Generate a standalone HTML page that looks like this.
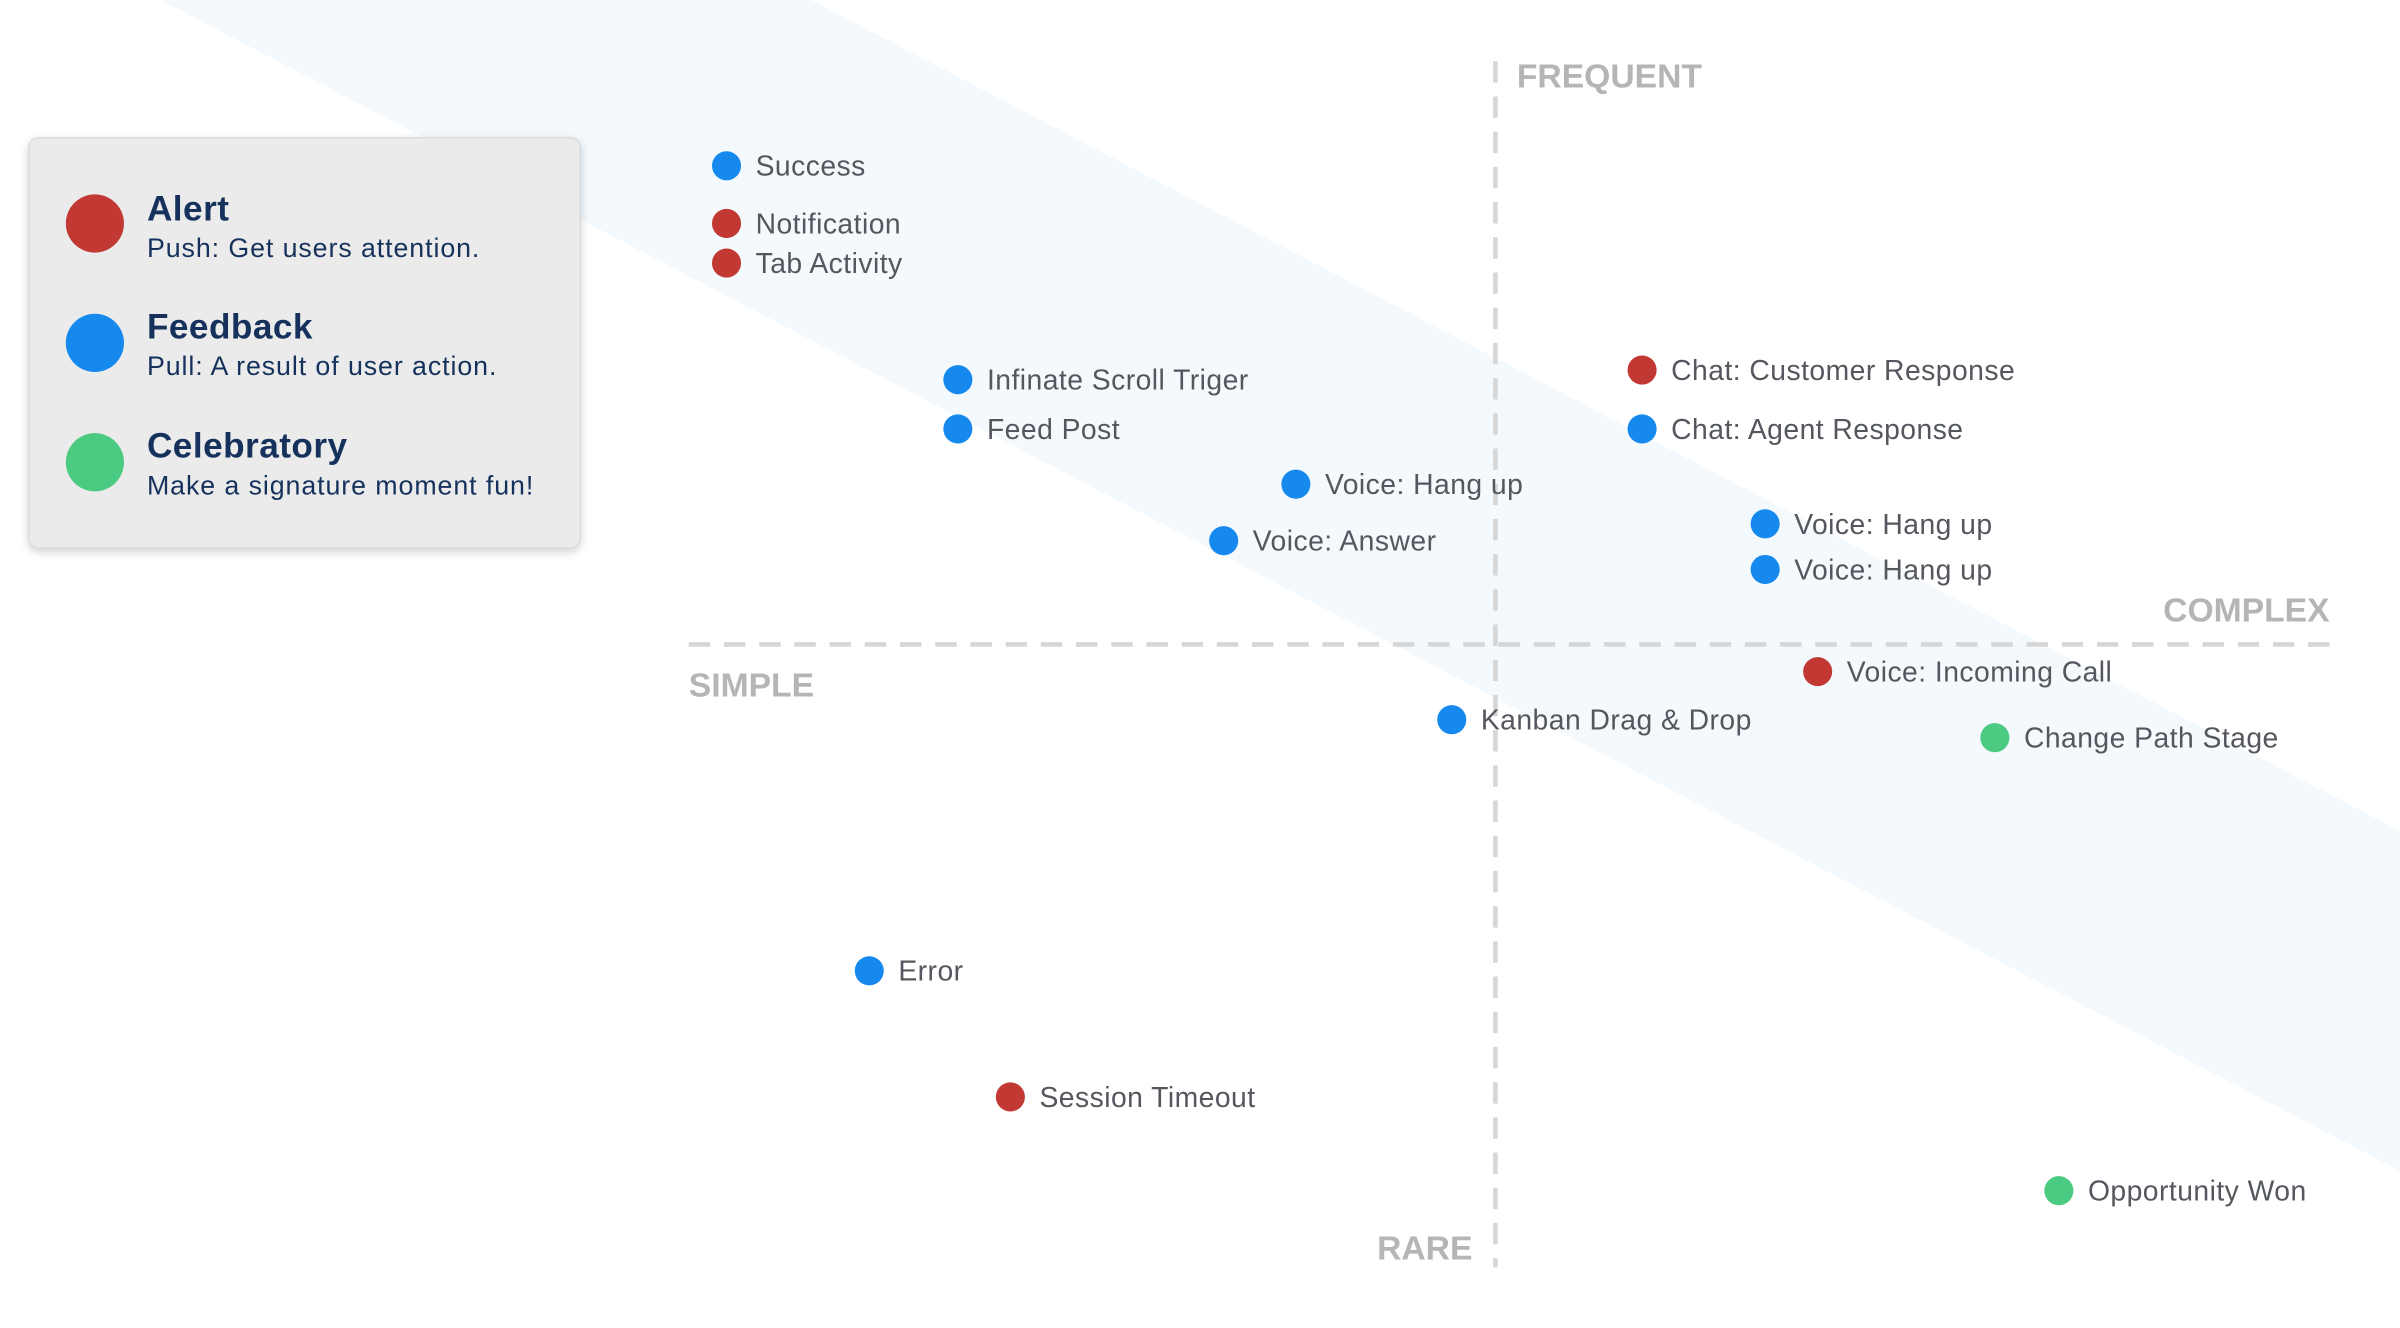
<!DOCTYPE html>
<html><head><meta charset="utf-8"><style>
html,body{margin:0;padding:0;background:#fff;}
svg{display:block;font-family:"Liberation Sans",sans-serif;}
</style></head><body>
<svg id="chart" width="2400" height="1328" viewBox="0 0 1568 867.6" xmlns="http://www.w3.org/2000/svg">
<rect width="1568" height="867.6" fill="#fff"/>
<polygon points="105,0 530,0 1568,543 1568,765" fill="#f3f9fd"/>
<line x1="977" y1="40" x2="977" y2="828" stroke="#d6d6d6" stroke-width="3" stroke-dasharray="14 9"/>
<line x1="450" y1="421" x2="1522" y2="421" stroke="#d6d6d6" stroke-width="3" stroke-dasharray="14 9"/>
<g font-size="22" font-weight="bold" fill="#b5b5b5">
<text x="991" y="57">FREQUENT</text>
<text x="1522" y="406" text-anchor="end">COMPLEX</text>
<text x="450" y="455">SIMPLE</text>
<text x="962" y="823" text-anchor="end">RARE</text>
</g>
<g>
<rect x="19" y="90" width="360" height="268" rx="6" fill="#ebebeb" stroke="#dcdcdc" stroke-width="1" style="filter:drop-shadow(0 2px 3px rgba(0,0,0,0.18))"/>
<circle cx="62" cy="146" r="19" fill="#c23934"/>
<text x="96" y="144" font-size="23" font-weight="bold" fill="#16325c" letter-spacing="0.3">Alert</text>
<text x="96" y="168" font-size="17.5" fill="#16325c" letter-spacing="0.6">Push: Get users attention.</text>
<circle cx="62" cy="224" r="19" fill="#1589ee"/>
<text x="96" y="221" font-size="23" font-weight="bold" fill="#16325c" letter-spacing="0.3">Feedback</text>
<text x="96" y="245" font-size="17.5" fill="#16325c" letter-spacing="0.6">Pull: A result of user action.</text>
<circle cx="62" cy="302" r="19" fill="#4bca81"/>
<text x="96" y="299" font-size="23" font-weight="bold" fill="#16325c" letter-spacing="0.3">Celebratory</text>
<text x="96" y="323" font-size="17.5" fill="#16325c" letter-spacing="0.6">Make a signature moment fun!</text>
</g>
<g id="points"></g>
</svg>
<script>
const labels = ["Success","Notification","Tab Activity","Infinate Scroll Triger","Feed Post","Voice: Hang up","Voice: Answer","Chat: Customer Response","Chat: Agent Response","Voice: Hang up","Voice: Hang up","Voice: Incoming Call","Kanban Drag & Drop","Change Path Stage","Error","Session Timeout","Opportunity Won"];
const complexity = [2.3,2.3,2.3,16.4,16.4,37.0,32.6,58.1,58.1,65.6,65.6,68.8,46.5,79.6,11.0,19.6,83.5];
const frequency = [91.3,86.5,83.2,73.5,69.4,64.8,60.1,74.3,69.4,61.5,57.7,49.2,45.2,43.7,24.3,13.8,6.0];
const types = ["feedback","alert","alert","feedback","feedback","feedback","feedback","alert","feedback","feedback","feedback","alert","feedback","celebratory","feedback","alert","celebratory"];
const colors = {alert:"#c23934",feedback:"#1589ee",celebratory:"#4bca81"};
function xScale(v){return 450 + v*(1522-450)/100;}
function yScale(v){return 825 - v*(825-40)/100;}
const NS="http://www.w3.org/2000/svg";
const g=document.getElementById('points');
labels.forEach((lab,i)=>{
  const cx=xScale(complexity[i]), cy=yScale(frequency[i]);
  const c=document.createElementNS(NS,'circle');
  c.setAttribute('cx',cx);c.setAttribute('cy',cy);c.setAttribute('r',9.5);
  c.setAttribute('fill',colors[types[i]]);
  
  
  g.appendChild(c);
  const t=document.createElementNS(NS,'text');
  t.setAttribute('x',cx+19);t.setAttribute('y',cy+6.5);
  t.setAttribute('font-size','18.5');t.setAttribute('fill','#54585e');
  t.setAttribute('letter-spacing','0.3');
  t.textContent=lab;
  
  
  g.appendChild(t);
});
</script>
</body></html>
